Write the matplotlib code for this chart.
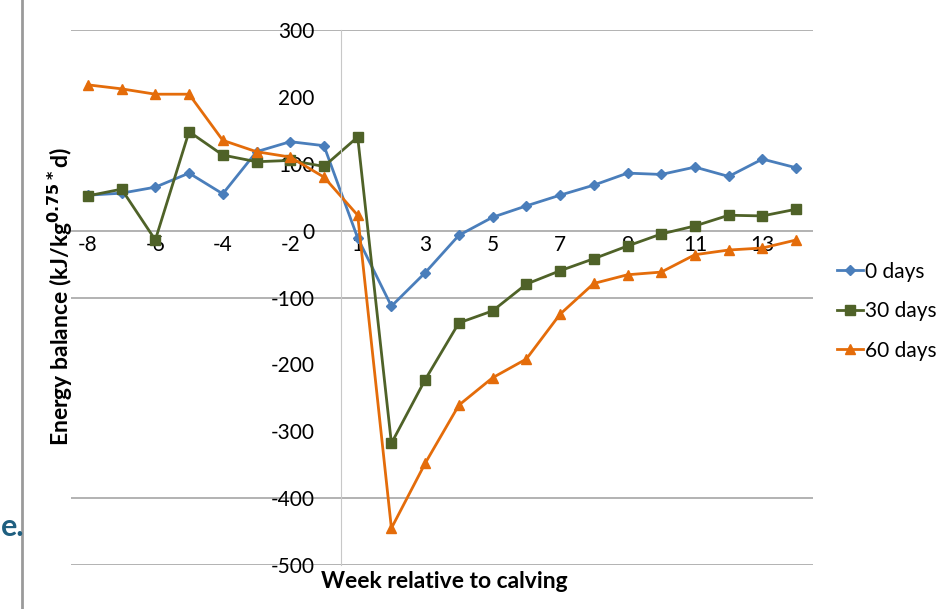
import numpy as np
import matplotlib.pyplot as plt

plt.rcParams['font.family'] = ['Lato', 'DejaVu Sans']
plt.rcParams['axes.unicode_minus'] = False

# weeks relative to calving (no week 0)
weeks = [-8, -7, -6, -5, -4, -3, -2, -1, 1, 2, 3, 4, 5, 6, 7, 8, 9, 10, 11, 12, 13, 14]
days0 = [53, 56, 65, 86, 55, 118, 133, 127, -11, -113, -63, -7, 20, 37, 53, 68, 86, 84, 95, 81, 107, 94]
days30 = [52, 62, -14, 148, 113, 103, 105, 96, 140, -318, -223, -138, -120, -80, -60, -42, -23, -5, 7, 23, 22, 32]
days60 = [218, 212, 204, 204, 135, 118, 110, 80, 23, -445, -348, -261, -220, -192, -125, -79, -66, -62, -36, -29, -26, -14]
labels = ['0 days', '30 days', '60 days']
grid_levels = [300, 0, -100, -400, -500]   # the lines that show in the picture

fig = plt.figure(figsize=(9.49, 6.09), dpi=100)
ax = fig.add_axes([71/949, 1-565/609, (813-71)/949, (565-30)/609])

x = np.arange(len(weeks))
for lv in grid_levels:
    ax.axhline(lv, color='#A6A6A6', lw=1.2, zorder=0)

ax.plot(x, days0, color='#4A7EBB', marker='D', ms=5.5, lw=2, label=labels[0])
ax.plot(x, days30, color='#4F6228', marker='s', ms=7, lw=2, label=labels[1])
ax.plot(x, days60, color='#E46C0A', marker='^', ms=7.5, lw=2, label=labels[2])

ax.set_xlim(-0.5, len(weeks)-0.5)
ax.set_ylim(-500, 300)

# y axis sits between week -1 and week 1, x axis crosses at 0
ax.spines['left'].set_position(('data', 7.5))
ax.spines['left'].set_color('#C8C8C8')
ax.spines['bottom'].set_position(('data', 0))
ax.spines['bottom'].set_visible(False)
ax.spines['top'].set_visible(False)
ax.spines['right'].set_visible(False)

ax.set_yticks(range(-500, 301, 100))
ax.set_xticks(x[::2])
ax.set_xticklabels([str(w) for w in weeks[::2]])
ax.tick_params(axis='y', length=0, pad=19, labelsize=15)
ax.tick_params(axis='x', length=0, pad=3, labelsize=15)

fig.text(60/949, 1-297/609, 'Energy balance (kJ/kg$^{\\mathbf{0.75*}}$d)', rotation=90,
         ha='center', va='center', fontsize=16.5, fontweight='bold')
fig.text(444/949, 1-582/609, 'Week relative to calving', ha='center', va='center',
         fontsize=16.5, fontweight='bold')

fig.legend(loc='upper left', bbox_to_anchor=(818/949, 1-243/609), frameon=False,
           fontsize=15, handlelength=1.25, handletextpad=0.1, labelspacing=0.93)

# slide remnants on the left
fig.add_artist(plt.Line2D([22/949, 22/949], [0, 1], color='#9A9A9A', lw=2))
fig.text(1/949, 1-527/609, 'e.', color='#1F5F80', fontsize=22, fontweight='bold', va='center')

fig.savefig('out.png', dpi=100)
